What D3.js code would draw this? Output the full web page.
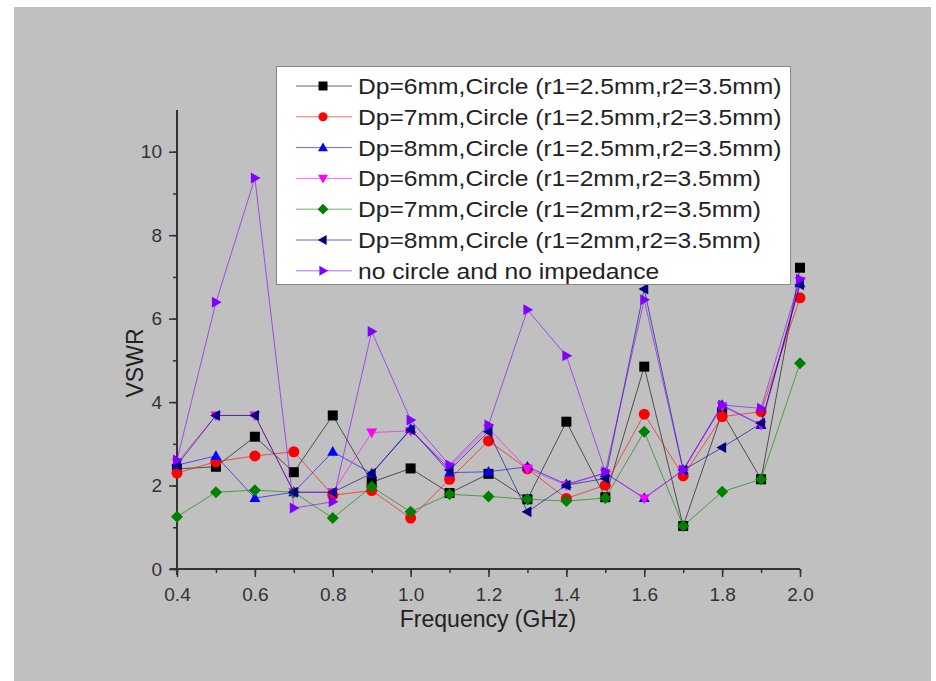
<!DOCTYPE html>
<html>
<head>
<meta charset="utf-8">
<script src="https://cdn.jsdelivr.net/npm/d3@7"></script>
<style>
  html, body { margin: 0; padding: 0; background: #fff; }
  svg { display: block; font-family: 'Liberation Sans', Arial, sans-serif; }
</style>
</head>
<body>
<div id="chart"></div>
<script>
'use strict';

// frequency points (GHz)
var freqs = [0.4, 0.5, 0.6, 0.7, 0.8, 0.9, 1.0, 1.1, 1.2, 1.3, 1.4, 1.5, 1.6, 1.7, 1.8, 1.9, 2.0];

var seriesNames = [
    'Dp=6mm,Circle (r1=2.5mm,r2=3.5mm)',
    'Dp=7mm,Circle (r1=2.5mm,r2=3.5mm)',
    'Dp=8mm,Circle (r1=2.5mm,r2=3.5mm)',
    'Dp=6mm,Circle (r1=2mm,r2=3.5mm)',
    'Dp=7mm,Circle (r1=2mm,r2=3.5mm)',
    'Dp=8mm,Circle (r1=2mm,r2=3.5mm)',
    'no circle and no impedance'
];

var dp6r25 = [2.40, 2.45, 3.17, 2.32, 3.68, 2.08, 2.41, 1.82, 2.28, 1.67, 3.53, 1.72, 4.85, 1.03, 3.75, 2.15, 7.22];
var dp7r25 = [2.30, 2.57, 2.71, 2.81, 1.77, 1.88, 1.22, 2.15, 3.07, 2.40, 1.69, 2.01, 3.71, 2.23, 3.65, 3.77, 6.50];
var dp8r25 = [2.49, 2.71, 1.70, 1.84, 2.81, 2.29, 3.36, 2.31, 2.33, 2.45, 2.03, 2.30, 1.70, 2.37, 3.93, 3.45, 6.85];
var dp6r2  = [2.55, 3.68, 3.68, 1.84, 1.84, 3.27, 3.31, 2.45, 3.37, 2.40, 2.01, 2.30, 1.69, 2.37, 3.90, 3.45, 6.90];
var dp7r2  = [1.25, 1.84, 1.89, 1.84, 1.22, 1.97, 1.37, 1.79, 1.74, 1.67, 1.63, 1.70, 3.29, 1.03, 1.85, 2.15, 4.93];
var dp8r2  = [2.49, 3.68, 3.68, 1.84, 1.84, 2.29, 3.34, 2.37, 3.29, 1.37, 2.01, 2.17, 6.71, 2.37, 2.91, 3.49, 6.81];
var noCircle = [2.61, 6.39, 9.37, 1.46, 1.61, 5.69, 3.57, 2.49, 3.45, 6.21, 5.11, 2.33, 6.45, 2.37, 3.93, 3.85, 6.95];

var seriesValues = [dp6r25, dp7r25, dp8r25, dp6r2, dp7r2, dp8r2, noCircle];
var seriesColors = ['#000000', '#ff0000', '#0000ff', '#ff00ff', '#008000', '#000080', '#8000ff'];
var seriesSymbols = ['square', 'circle', 'triUp', 'triDown', 'diamond', 'triLeft', 'triRight'];

var xTicks = [0.4, 0.6, 0.8, 1.0, 1.2, 1.4, 1.6, 1.8, 2.0];
var yTicks = [0, 2, 4, 6, 8, 10];

var W = 936, H = 681;
var FONT = "'Liberation Sans', Arial, sans-serif";
var svg = d3.select('#chart').append('svg').attr('width', W).attr('height', H);

// grey page background
svg.append('rect').attr('x', 14).attr('y', 7).attr('width', 917).attr('height', H)
    .attr('fill', '#c0c0c0');

var x = d3.scaleLinear().domain([0.4, 2.0]).range([177, 800]);
var y = d3.scaleLinear().domain([0, 11]).range([569, 110]);

// marker path builder, s = half-width
function markerPath(type, s) {
    var p = d3.path();
    if (type === 'square') {
        p.rect(-s, -s, 2 * s, 2 * s);
    } else if (type === 'circle') {
        p.arc(0, 0, s, 0, 2 * Math.PI);
    } else if (type === 'triUp') {
        p.moveTo(0, -s * 1.15); p.lineTo(s * 1.1, s * 0.8); p.lineTo(-s * 1.1, s * 0.8); p.closePath();
    } else if (type === 'triDown') {
        p.moveTo(0, s * 1.15); p.lineTo(s * 1.1, -s * 0.8); p.lineTo(-s * 1.1, -s * 0.8); p.closePath();
    } else if (type === 'triLeft') {
        p.moveTo(-s * 1.15, 0); p.lineTo(s * 0.8, -s * 1.1); p.lineTo(s * 0.8, s * 1.1); p.closePath();
    } else if (type === 'triRight') {
        p.moveTo(s * 1.15, 0); p.lineTo(-s * 0.8, -s * 1.1); p.lineTo(-s * 0.8, s * 1.1); p.closePath();
    } else if (type === 'diamond') {
        p.moveTo(0, -s * 1.2); p.lineTo(s * 1.2, 0); p.lineTo(0, s * 1.2); p.lineTo(-s * 1.2, 0); p.closePath();
    }
    return p.toString();
}

// ── Axes ──
var xAxisG = svg.append('g').attr('transform', 'translate(0,' + y(0) + ')');
xAxisG.call(d3.axisBottom(x).tickValues(d3.range(0.4, 2.05, 0.1)).tickSize(4).tickFormat(''));
xAxisG.selectAll('.tick line').attr('stroke', '#333').attr('stroke-width', 1.5);
var xMajor = svg.append('g').attr('transform', 'translate(0,' + y(0) + ')')
    .call(d3.axisBottom(x).tickValues(xTicks).tickSize(8).tickPadding(11).tickFormat(d3.format('.1f')));
xMajor.select('.domain').remove();
xMajor.selectAll('.tick line').attr('stroke', '#333').attr('stroke-width', 1.5);
xMajor.selectAll('.tick text').attr('font-size', 19).attr('fill', '#333').attr('font-family', FONT);
xAxisG.select('.domain').attr('stroke', '#333').attr('stroke-width', 2).attr('d', 'M170,0H800');

var yAxisG = svg.append('g').attr('transform', 'translate(' + x(0.4) + ',0)');
yAxisG.call(d3.axisLeft(y).tickValues(d3.range(0, 11, 1)).tickSize(4).tickFormat(''));
yAxisG.selectAll('.tick line').attr('stroke', '#333').attr('stroke-width', 1.5);
var yMajor = svg.append('g').attr('transform', 'translate(' + x(0.4) + ',0)')
    .call(d3.axisLeft(y).tickValues(yTicks).tickSize(8).tickPadding(7));
yMajor.select('.domain').remove();
yMajor.selectAll('.tick line').attr('stroke', '#333').attr('stroke-width', 1.5);
yMajor.selectAll('.tick text').attr('font-size', 19).attr('fill', '#333').attr('font-family', FONT);
yAxisG.select('.domain').attr('stroke', '#333').attr('stroke-width', 2).attr('d', 'M0,' + y(11) + 'V' + (y(0) + 6));

svg.append('text').attr('x', 488).attr('y', 627).attr('text-anchor', 'middle')
    .attr('font-size', 23).attr('fill', '#222').text('Frequency (GHz)');
svg.append('text').attr('transform', 'translate(143,363) rotate(-90)')
    .attr('text-anchor', 'middle').attr('font-size', 23).attr('fill', '#222').text('VSWR');

// ── Series ──
var line = d3.line().x(function(d, i) { return x(freqs[i]); }).y(function(d) { return y(d); });

seriesValues.forEach(function(vals, si) {
    var g = svg.append('g').attr('class', 'series');
    g.append('path').datum(vals).attr('d', line)
        .attr('fill', 'none').attr('stroke', seriesColors[si])
        .attr('stroke-width', 1).attr('stroke-opacity', 0.6);
    g.selectAll('path.mk').data(vals).enter().append('path').attr('class', 'mk')
        .attr('transform', function(d, i) { return 'translate(' + x(freqs[i]) + ',' + y(d) + ')'; })
        .attr('d', markerPath(seriesSymbols[si], si === 1 ? 5.5 : 5))
        .attr('fill', seriesColors[si]);
});

// ── Legend ──
var leg = svg.append('g');
leg.append('rect').attr('x', 276.5).attr('y', 66.5).attr('width', 514).attr('height', 218)
    .attr('fill', '#fff').attr('stroke', '#888').attr('stroke-width', 1);

seriesNames.forEach(function(name, si) {
    var cy = 86 + si * 30.8;
    leg.append('line').attr('x1', 296).attr('x2', 352).attr('y1', cy).attr('y2', cy)
        .attr('stroke', seriesColors[si]).attr('stroke-width', 1).attr('stroke-opacity', 0.6);
    leg.append('path').attr('transform', 'translate(323,' + cy + ')')
        .attr('d', markerPath(seriesSymbols[si], 4.5)).attr('fill', seriesColors[si]);
    leg.append('text').attr('transform', 'translate(358,' + cy + ') scale(1.12,1)')
        .attr('dy', '0.36em').attr('font-size', 22).attr('fill', '#222').text(name);
});
</script>
</body>
</html>
